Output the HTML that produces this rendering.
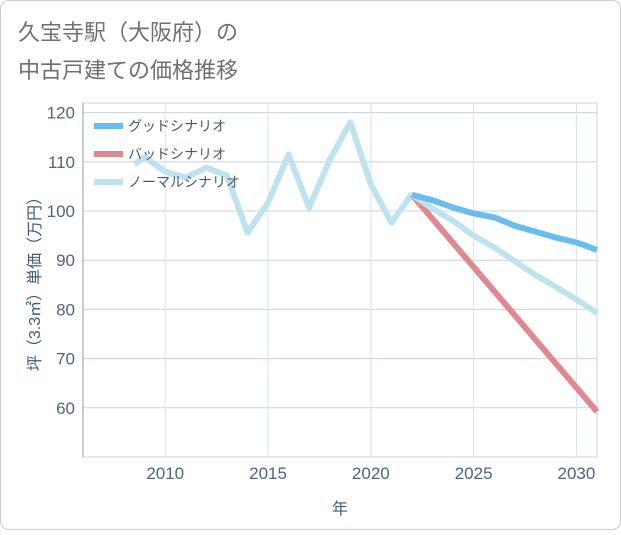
<!DOCTYPE html>
<html><head><meta charset="utf-8"><style>
body{margin:0;background:#fff;}
svg text{font-family:"Liberation Sans","Noto Sans CJK JP",sans-serif;}
</style></head><body>
<svg width="621" height="530" xmlns="http://www.w3.org/2000/svg" id="chart">
<rect x="0.5" y="0.5" width="620" height="529" rx="8" fill="#fff" stroke="#ccc"/>
<text x="18" y="40" font-size="22" fill="#707070">久宝寺駅（大阪府）の</text>
<text x="18" y="78" font-size="22" fill="#707070">中古戸建ての価格推移</text>
<g id="grid"></g>
<g id="axes"></g>
<g id="series"></g>
<text transform="translate(40,280) rotate(-90)" text-anchor="middle" font-size="16" fill="#3d5a80">坪（3.3㎡）単価（万円）</text>
<text x="340" y="514" text-anchor="middle" font-size="16" fill="#3d5a80">年</text>
<g id="legend"></g>
</svg>
<script>
const histYears=[2008.5,2009,2010,2011,2012,2013,2014,2015,2016,2017,2018,2019,2020,2021,2022];
const histValues=[109.5,111,108,106.8,108.8,107.2,95.6,101.7,111.5,100.7,110.4,118,105.4,97.6,103.5];
const fcYears=[2022,2023,2024,2025,2026,2027,2028,2029,2030,2031];
const goodValues=[103.3,102.2,100.7,99.5,98.7,97,95.8,94.6,93.6,92.1];
const badValues=[103.3,98.4,93.5,88.6,83.7,78.8,73.9,69,64.1,59.2];
const normalValues=[103.3,100.5,98,95,92.6,89.8,87,84.6,82,79.3];
const yTicks=[60,70,80,90,100,110,120];
const xTicks=[2010,2015,2020,2025,2030];
const legendLabels=["グッドシナリオ","バッドシナリオ","ノーマルシナリオ"];
const NS="http://www.w3.org/2000/svg";
const L=83,R=597,T=103,B=457,X0=2006,X1=2031,Y0=50,Y1=121.95;
const xs=v=>L+(v-X0)/(X1-X0)*(R-L);
const ys=v=>B-(v-Y0)/(Y1-Y0)*(B-T);
function mk(tag,attrs,parent){const e=document.createElementNS(NS,tag);for(const k in attrs)e.setAttribute(k,attrs[k]);document.getElementById(parent).appendChild(e);return e;}
mk('rect',{x:L,y:T,width:R-L,height:B-T,fill:'none',stroke:'#c8d3dc'},'grid');
yTicks.forEach(v=>{
 const l=mk('line',{x1:L,x2:R,y1:ys(v),y2:ys(v),stroke:'#c8d3dc'},'grid');
 
 
 const t=mk('text',{x:L-8,y:ys(v)+6,'text-anchor':'end','font-size':17,fill:'#4a6585'},'axes');
 t.textContent=v;
 
 
});
xTicks.forEach(v=>{
 const l=mk('line',{x1:xs(v),x2:xs(v),y1:T,y2:B,stroke:'#d5e6f0'},'grid');
 
 
 const t=mk('text',{x:xs(v),y:B+22,'text-anchor':'middle','font-size':17,fill:'#4a6585'},'axes');
 t.textContent=v;
 
 
});
const al=mk('line',{x1:L,x2:L,y1:T,y2:B,stroke:'#999'},'axes');


function pts(xa,ya){return xa.map((x,i)=>xs(x)+','+ys(ya[i])).join(' ');}
const sHist=mk('polyline',{points:pts(histYears,histValues),fill:'none',stroke:'#bfe2ef','stroke-width':6,'stroke-linejoin':'round'},'series');


const sBad=mk('polyline',{points:pts(fcYears,badValues),fill:'none',stroke:'#e0888f','stroke-width':6},'series');


const sNorm=mk('polyline',{points:pts(fcYears,normalValues),fill:'none',stroke:'#bfe2ef','stroke-width':6},'series');


const sGood=mk('polyline',{points:pts(fcYears,goodValues),fill:'none',stroke:'#6bbdf0','stroke-width':6},'series');


const colors=['#6bbdf0','#e0888f','#bfe2ef'];
legendLabels.forEach((lab,i)=>{
 const y=126+i*28;
 const l=mk('line',{x1:94,x2:123,y1:y,y2:y,stroke:colors[i],'stroke-width':6},'legend');
 
 
 const t=mk('text',{x:128,y:y+5,'font-size':14,fill:'#4a5a6a'},'legend');
 t.textContent=lab;
 
 
});
</script>
</body></html>
